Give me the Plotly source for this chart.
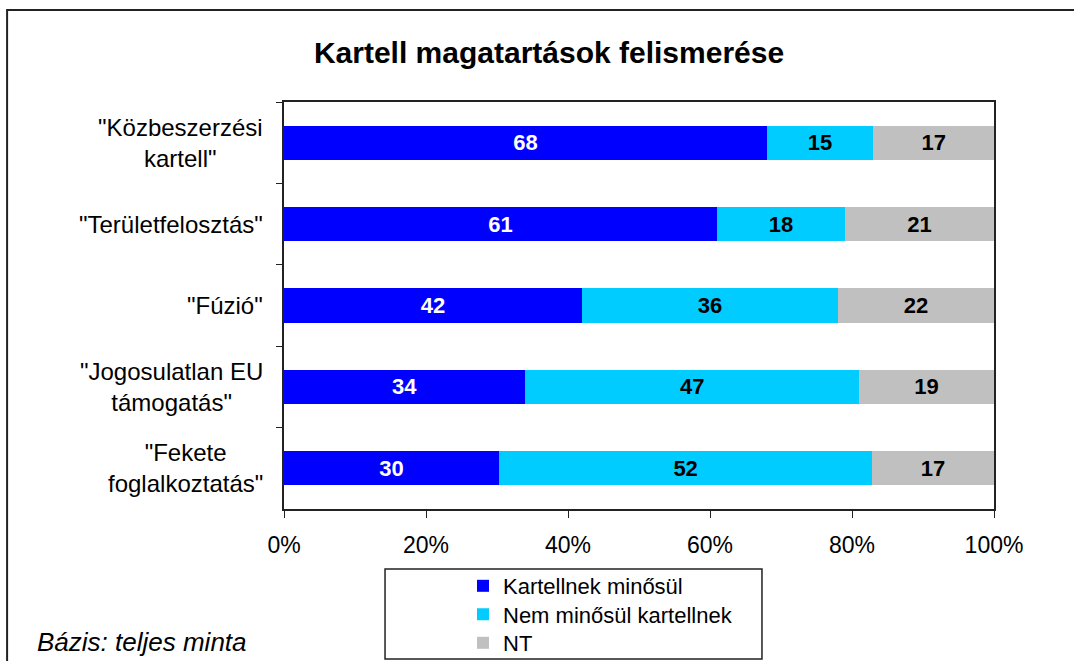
import plotly.graph_objects as go

categories = ['"Közbeszerzési<br>kartell"', '"Területfelosztás"', '"Fúzió"',
              '"Jogosulatlan EU<br>támogatás"', '"Fekete<br>foglalkoztatás"']
series_names = ["Kartellnek minősül", "Nem minősül kartellnek", "NT"]
kartell = [68, 61, 42, 34, 30]
nem_kartell = [15, 18, 36, 47, 52]
nt = [17, 21, 22, 19, 17]
x_ticks = [0, 20, 40, 60, 80, 100]
x_tick_labels = ["0%", "20%", "40%", "60%", "80%", "100%"]

colors = ["#0000FF", "#00CCFF", "#C0C0C0"]
text_colors = ["white", "black", "black"]
legend_ids = ["legend", "legend2", "legend3"]
legend_rows_y = [-0.1892, -0.2592, -0.3292]
FONT = "Arial, Liberation Sans, sans-serif"

fig = go.Figure()
for name, vals, col, tcol, lg in zip(series_names, [kartell, nem_kartell, nt], colors, text_colors, legend_ids):
    fig.add_trace(go.Bar(
        y=categories, x=vals, name=name, orientation="h", legend=lg,
        marker=dict(color=col, line=dict(width=0)),
        text=[str(v) for v in vals], textposition="inside",
        insidetextanchor="middle", constraintext="none",
        textfont=dict(family=FONT, size=22, color=tcol, weight="bold"),
    ))

legend_style = dict(x=0.2521, xanchor="left", yanchor="middle",
                    font=dict(size=22, family=FONT), bgcolor="rgba(0,0,0,0)",
                    itemsizing="constant")

fig.update_layout(
    barmode="stack", barnorm="percent", bargap=0.582,
    width=1074, height=661, autosize=False,
    margin=dict(l=284, r=80, t=102, b=152, autoexpand=False),
    paper_bgcolor="white", plot_bgcolor="white",
    font=dict(family=FONT, color="black"),
    title=dict(text="<b>Kartell magatartások felismerése</b>", x=0.5112, xanchor="center",
               y=0.9213, yanchor="middle", font=dict(size=30, family=FONT, color="black")),
    showlegend=True,
    legend=dict(y=legend_rows_y[0], **legend_style),
    legend2=dict(y=legend_rows_y[1], **legend_style),
    legend3=dict(y=legend_rows_y[2], **legend_style),
    xaxis=dict(range=[0, 100], tickvals=x_ticks, ticktext=x_tick_labels,
               showgrid=False, zeroline=False, showline=True, linecolor="#222", linewidth=1.5,
               mirror=True, ticks="outside", ticklen=7, tickcolor="#222",
               ticklabelstandoff=8,
               tickfont=dict(size=23, family=FONT)),
    yaxis=dict(autorange="reversed", showgrid=False, zeroline=False, showline=True,
               linecolor="#222", linewidth=1.5, mirror=True, ticks="outside",
               tickson="boundaries", ticklen=6, tickcolor="#222",
               showticklabels=False),
)

for c in categories:
    fig.add_annotation(x=0, xref="paper", y=c, yref="y", text=c, showarrow=False,
                       xanchor="right", yanchor="middle", align="center", xshift=-19,
                       font=dict(size=24, family=FONT, color="black"))

fig.add_annotation(x=-0.3507, xref="paper", y=-0.3268, yref="paper", text="<i>Bázis: teljes minta</i>",
                   showarrow=False, xanchor="left", yanchor="middle",
                   font=dict(size=26, family=FONT, color="black"))

# outer chart border
fig.add_shape(type="rect", xref="paper", yref="paper", x0=-0.390, x1=1.12, y0=-0.45, y1=1.226,
              line=dict(color="#222", width=2), fillcolor="rgba(0,0,0,0)", layer="below")
# legend box
fig.add_shape(type="rect", xref="paper", yref="paper", x0=0.1423, x1=0.6732, y0=-0.3686, y1=-0.1474,
              line=dict(color="#222", width=1.5), fillcolor="rgba(0,0,0,0)", layer="below")

fig.write_html("out.html", config={"displayModeBar": False},
               post_script="document.body.style.margin='0';document.body.style.overflow='hidden';")
